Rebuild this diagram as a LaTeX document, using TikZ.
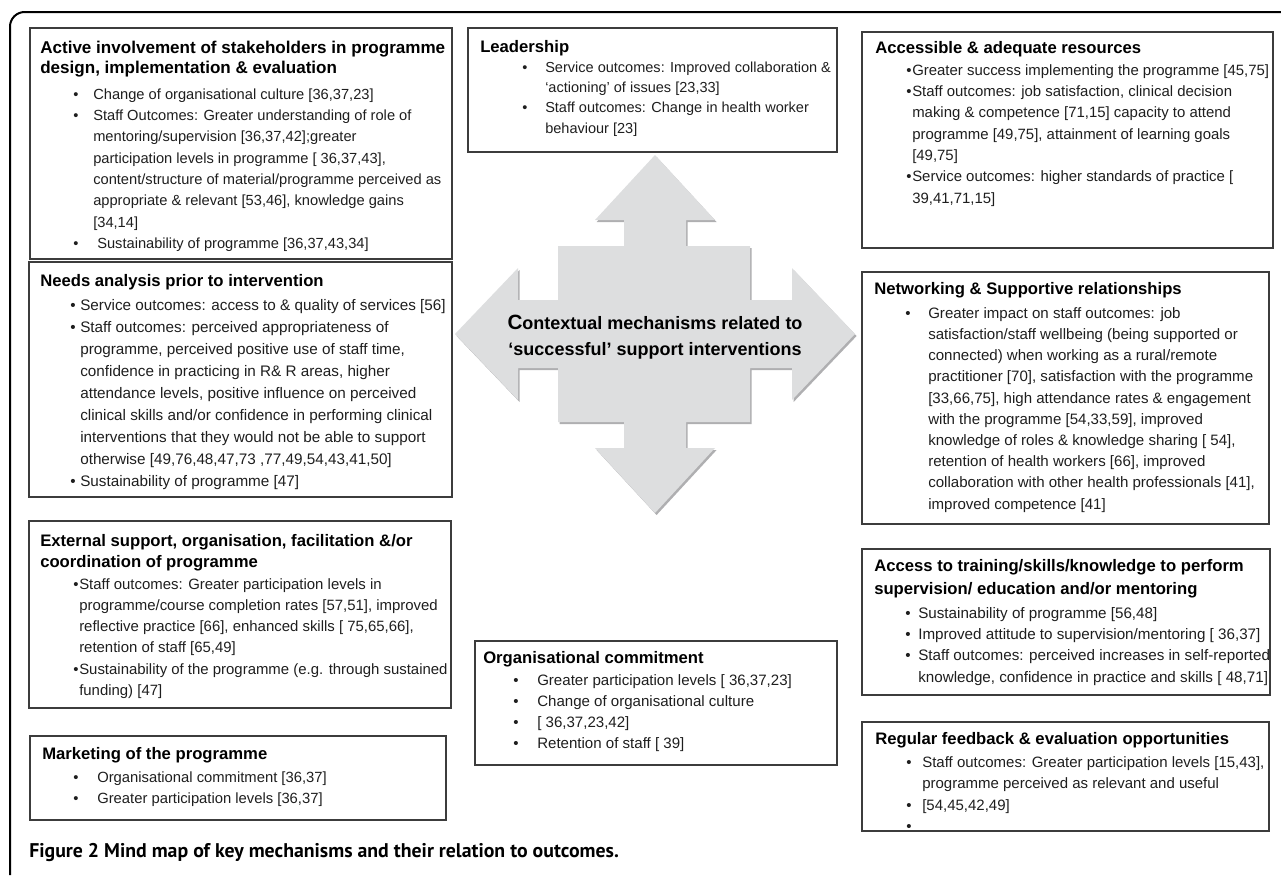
\documentclass[tikz,border=0pt]{standalone}
\usepackage{fontspec}
\setmainfont{Liberation Sans}
\newfontfamily\capfont{PT Sans}
\usetikzlibrary{fit}
\newdimen\pxu \pxu=0.75pt
\newcommand\bl[1]{\llap{\makebox[#1\pxu][l]{\textbullet}}}
\newcommand\fsz[2]{\fontsize{#1}{#2}\selectfont}
\newcommand\ft{\rule{0pt}{11pt}}
\definecolor{boxline}{RGB}{60,60,60}
\definecolor{txt}{RGB}{30,30,30}
\definecolor{arrowfill}{RGB}{221,222,223}
\definecolor{arrowshade}{RGB}{175,175,177}
\begin{document}
\begin{tikzpicture}[x=0.75pt,y=-0.75pt,
  mbox/.style={draw=boxline, line width=0.9pt, inner sep=0pt, fit={#1}},
  ttl/.style 2 args={anchor=north west, inner sep=0pt, align=left, font=\bfseries\fsz{#1}{#2}, text=black},
  bdy/.style 2 args={anchor=north west, inner sep=0pt, align=left, font=\fsz{#1}{#2}, text=txt},
]
\useasboundingbox (0,0) rectangle (1281,875);

% outer frame
\draw[line width=1.5pt, rounded corners=11pt] (10,875) -- (10,12) -- (1281,12);

% central four-way arrow
\fill[arrowfill, preaction={fill=arrowshade, transform canvas={shift={(1.2pt,-1.5pt)}}}]
  (655,155) -- (715,220) -- (686,220) -- (686,246) -- (750,246) -- (750,300) -- (792,300) -- (792,268)
  -- (855,334) -- (792,400) -- (792,368) -- (750,368) -- (750,422) -- (686,422) -- (686,448) -- (715,448)
  -- (655,513) -- (595,448) -- (624,448) -- (624,422) -- (558,422) -- (558,368) -- (518,368) -- (518,400)
  -- (455,334) -- (518,268) -- (518,300) -- (558,300) -- (558,246) -- (624,246) -- (624,220) -- (595,220) -- cycle;
\node[align=center, inner sep=0pt, font=\bfseries\fsz{13.5}{20}, text=black] (centre) at (655,337)
  {{\fsz{15.5}{20}C}ontextual mechanisms related to\\ ‘successful’ support interventions};

% Box 1
\node[mbox={(30,28) (452,259)}] (f1) {};
\node[ttl={12.8}{15}] (t1) at (40,38.3) {\ft Active involvement of stakeholders in programme\\ design, implementation \& evaluation};
\node[bdy={11}{16}] (b1) at (93,84.3) {\ft\bl{20}Change of organisational culture [36,37,23]\\
\bl{20}Staff Outcomes: Greater understanding of role of\\
mentoring/supervision [36,37,42];greater\\
participation levels in programme [ 36,37,43],\\
content/structure of material/programme perceived as\\
appropriate \& relevant [53,46], knowledge gains\\ {}[34,14]\\
\bl{20}\hspace*{4\pxu}Sustainability of programme [36,37,43,34]};

% Box 2
\node[mbox={(29,262) (452,497)}] (f2) {};
\node[ttl={12.5}{15}] (t2) at (40,271.3) {\ft Needs analysis prior to intervention};
\node[bdy={11.45}{16.5}] (b2) at (80,295.3) {\ft\bl{10}Service outcomes: access to \& quality of services [56]\\
\bl{10}Staff outcomes: perceived appropriateness of\\
programme, perceived positive use of staff time,\\
confidence in practicing in R\& R areas, higher\\
attendance levels, positive influence on perceived\\
clinical skills and/or confidence in performing clinical\\
interventions that they would not be able to support\\
otherwise [49,76,48,47,73 ,77,49,54,43,41,50]\\
\bl{10}Sustainability of programme [47]};

% Box 3
\node[mbox={(29,521) (451,708)}] (f3) {};
\node[ttl={12.5}{15.75}] (t3) at (40,531.3) {\ft External support, organisation, facilitation \&/or\\ coordination of programme};
\node[bdy={11.2}{15.9}] (b3) at (79,574.3) {\ft\bl{6}Staff outcomes: Greater participation levels in\\
programme/course completion rates [57,51], improved\\
reflective practice [66], enhanced skills [ 75,65,66],\\
retention of staff [65,49]\\
\bl{6}Sustainability of the programme (e.g. through sustained\\
funding) [47]};

% Box 4
\node[mbox={(30,736) (446,820)}] (f4) {};
\node[ttl={12.5}{15}] (t4) at (42,744.3) {\ft Marketing of the programme};
\node[bdy={11.1}{15.75}] (b4) at (97,767.3) {\ft\bl{24}Organisational commitment [36,37]\\
\bl{24}Greater participation levels [36,37]};

% Box 5
\node[mbox={(468,28) (837,152)}] (f5) {};
\node[ttl={12.5}{15}] (t5) at (480,37.3) {\ft Leadership};
\node[bdy={10.9}{15.2}] (b5) at (545,57.3) {\ft\bl{23}Service outcomes: Improved collaboration \&\\
‘actioning’ of issues [23,33]\\
\bl{23}Staff outcomes: Change in health worker\\
behaviour [23]};

% Box 6
\node[mbox={(862,32) (1273,248)}] (f6) {};
\node[ttl={12.5}{15}] (t6) at (875,38.3) {\ft Accessible \& adequate resources};
\node[bdy={11.2}{16}] (b6) at (912,60.3) {\ft\bl{6}Greater success implementing the programme [45,75]\\
\bl{6}Staff outcomes: job satisfaction, clinical decision\\
making \& competence [71,15] capacity to attend\\
programme [49,75], attainment of learning goals\\ {}[49,75]\\
\bl{6}Service outcomes: higher standards of practice [\\
39,41,71,15]};

% Box 7
\node[mbox={(862,272) (1269,524)}] (f7) {};
\node[ttl={12.5}{15}] (t7) at (874,279.3) {\ft Networking \& Supportive relationships};
\node[bdy={11.3}{15.9}] (b7) at (928,303.3) {\ft\bl{23}Greater impact on staff outcomes: job\\
satisfaction/staff wellbeing (being supported or\\
connected) when working as a rural/remote\\
practitioner [70], satisfaction with the programme\\ {}[33,66,75], high attendance rates \& engagement\\
with the programme [54,33,59], improved\\
knowledge of roles \& knowledge sharing [ 54],\\
retention of health workers [66], improved\\
collaboration with other health professionals [41],\\
improved competence [41]};

% Box 8
\node[mbox={(862,549) (1270,695)}] (f8) {};
\node[ttl={12.5}{17.25}] (t8) at (874,556.3) {\ft Access to training/skills/knowledge to perform\\ supervision/ education and/or mentoring};
\node[bdy={11.4}{16}] (b8) at (918,603.3) {\ft\bl{13}Sustainability of programme [56,48]\\
\bl{13}Improved attitude to supervision/mentoring [ 36,37]\\
\bl{13}Staff outcomes: perceived increases in self-reported\\
knowledge, confidence in practice and skills [ 48,71]};

% Box 9
\node[mbox={(862,722) (1269,831)}] (f9) {};
\node[ttl={12.5}{15}] (t9) at (875,729.3) {\ft Regular feedback \& evaluation opportunities};
\node[bdy={11.25}{16.1}] (b9) at (922,752.3) {\ft\bl{16}Staff outcomes: Greater participation levels [15,43],\\
programme perceived as relevant and useful\\
\bl{16}[54,45,42,49]\\
\bl{16}\mbox{}};

% Box 10
\node[mbox={(475,641) (837,765)}] (f10) {};
\node[ttl={12.5}{15}] (t10) at (483,648.3) {\ft Organisational commitment};
\node[bdy={11.3}{15.75}] (b10) at (537,670.3) {\ft\bl{24}Greater participation levels [ 36,37,23]\\
\bl{24}Change of organisational culture\\
\bl{24}[ 36,37,23,42]\\
\bl{24}Retention of staff [ 39]};

% caption
\node[anchor=base west, inner sep=0pt, font=\capfont\bfseries\fsz{14.85}{17}] (cap) at (29,857)
  {Figure 2 Mind map of key mechanisms and their relation to outcomes.};
\end{tikzpicture}
\end{document}
